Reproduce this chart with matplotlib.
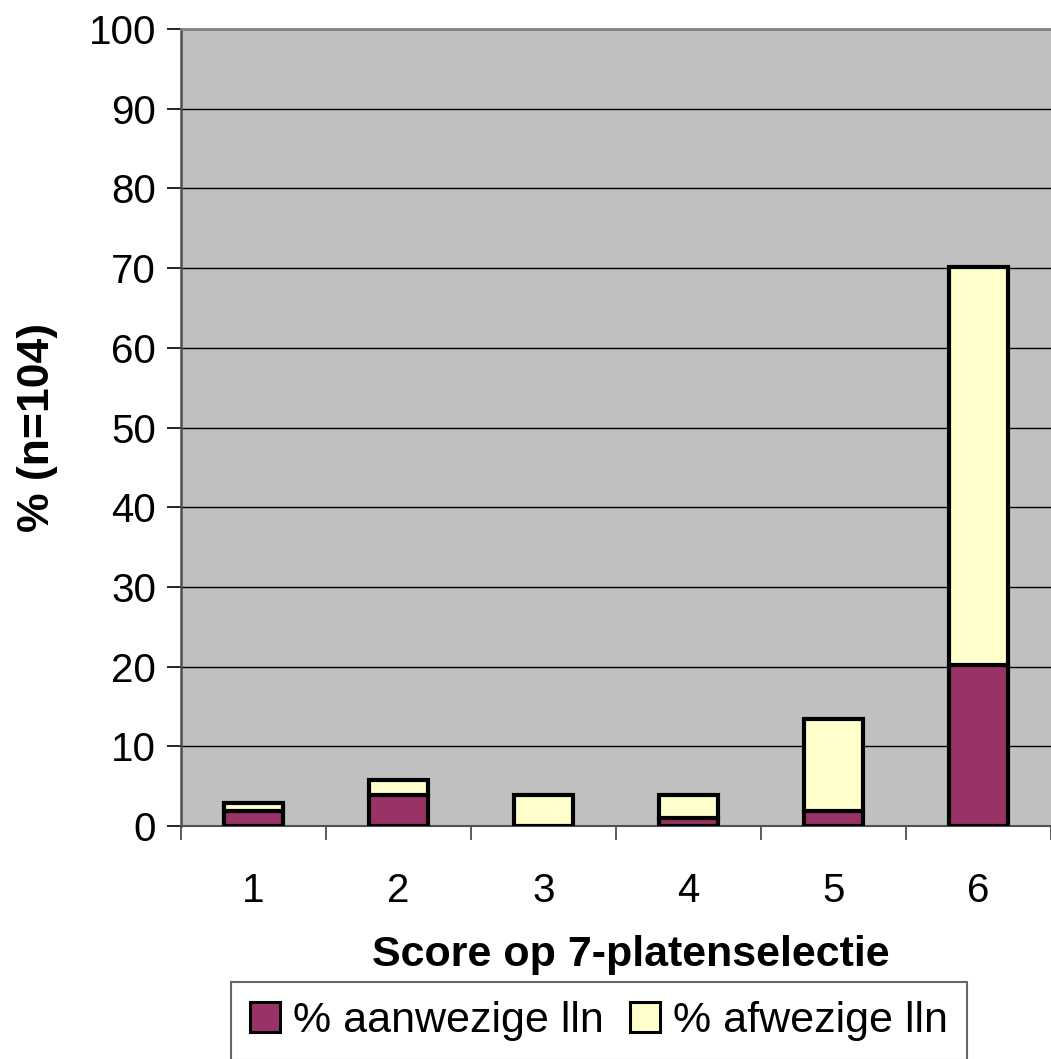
import matplotlib
matplotlib.use("Agg")
import matplotlib.pyplot as plt
from matplotlib.patches import Patch

plt.rcParams['font.family'] = ['Liberation Sans', 'DejaVu Sans']

categories = ['1', '2', '3', '4', '5', '6']
aanwezig = [1.92, 3.85, 0.0, 0.96, 1.92, 20.19]
afwezig = [0.96, 1.92, 3.85, 2.88, 11.54, 50.00]
yticks = [0, 10, 20, 30, 40, 50, 60, 70, 80, 90, 100]

maroon = '#993366'
cream = '#FFFFCC'

fig = plt.figure(figsize=(10.51, 10.59), dpi=100)
ax = fig.add_axes([0.1722, 0.22, 0.8278, 0.7526])
ax.set_facecolor('#C0C0C0')

x = list(range(1, len(categories) + 1))
ax.bar(x, aanwezig, width=0.41, color=maroon, edgecolor='black', linewidth=3, zorder=3)
ax.bar(x, afwezig, width=0.41, bottom=aanwezig, color=cream, edgecolor='black', linewidth=3, zorder=3)

ax.set_ylim(0, 100)
ax.set_xlim(0.5, 6.43)
ax.set_yticks(yticks)
ax.set_yticklabels([str(v) for v in yticks], fontsize=29)
ax.set_xticks(x)
ax.set_xticklabels(categories, fontsize=29)
ax.set_xticks([0.5 + i for i in range(len(categories) + 1)], minor=True)
ax.tick_params(axis='x', which='major', length=0, pad=33)
ax.tick_params(axis='x', which='minor', length=10, width=1.2, color='#404040')
ax.tick_params(axis='y', length=10, width=1.2, pad=8)
ax.grid(axis='y', color='black', linewidth=1.0, zorder=1)

ax.spines['right'].set_visible(False)
ax.spines['top'].set_color('#808080')
ax.spines['top'].set_linewidth(2)
ax.spines['left'].set_color('#505050')
ax.spines['left'].set_linewidth(1.8)
ax.spines['bottom'].set_color('#505050')
ax.spines['bottom'].set_linewidth(1.5)

ax.set_xlabel('Score op 7-platenselectie', fontsize=31, fontweight='bold', labelpad=18)
ax.xaxis.label.set_x(0.517)
ax.set_ylabel('% (n=104)', fontsize=32, fontweight='bold', labelpad=22)

handles = [Patch(facecolor=maroon, edgecolor='black', linewidth=2.2, label='% aanwezige lln'),
           Patch(facecolor=cream, edgecolor='black', linewidth=2.2, label='% afwezige lln')]
leg = fig.legend(handles=handles, loc='center', bbox_to_anchor=(0.57, 0.036), ncol=2,
                 fontsize=31, frameon=True, fancybox=False, edgecolor='#404040',
                 handlelength=0.7, handleheight=0.7, handletextpad=0.3, columnspacing=0.6,
                 borderpad=0.45)
leg.get_frame().set_linewidth(1.5)

fig.savefig('out.png', dpi=100)
